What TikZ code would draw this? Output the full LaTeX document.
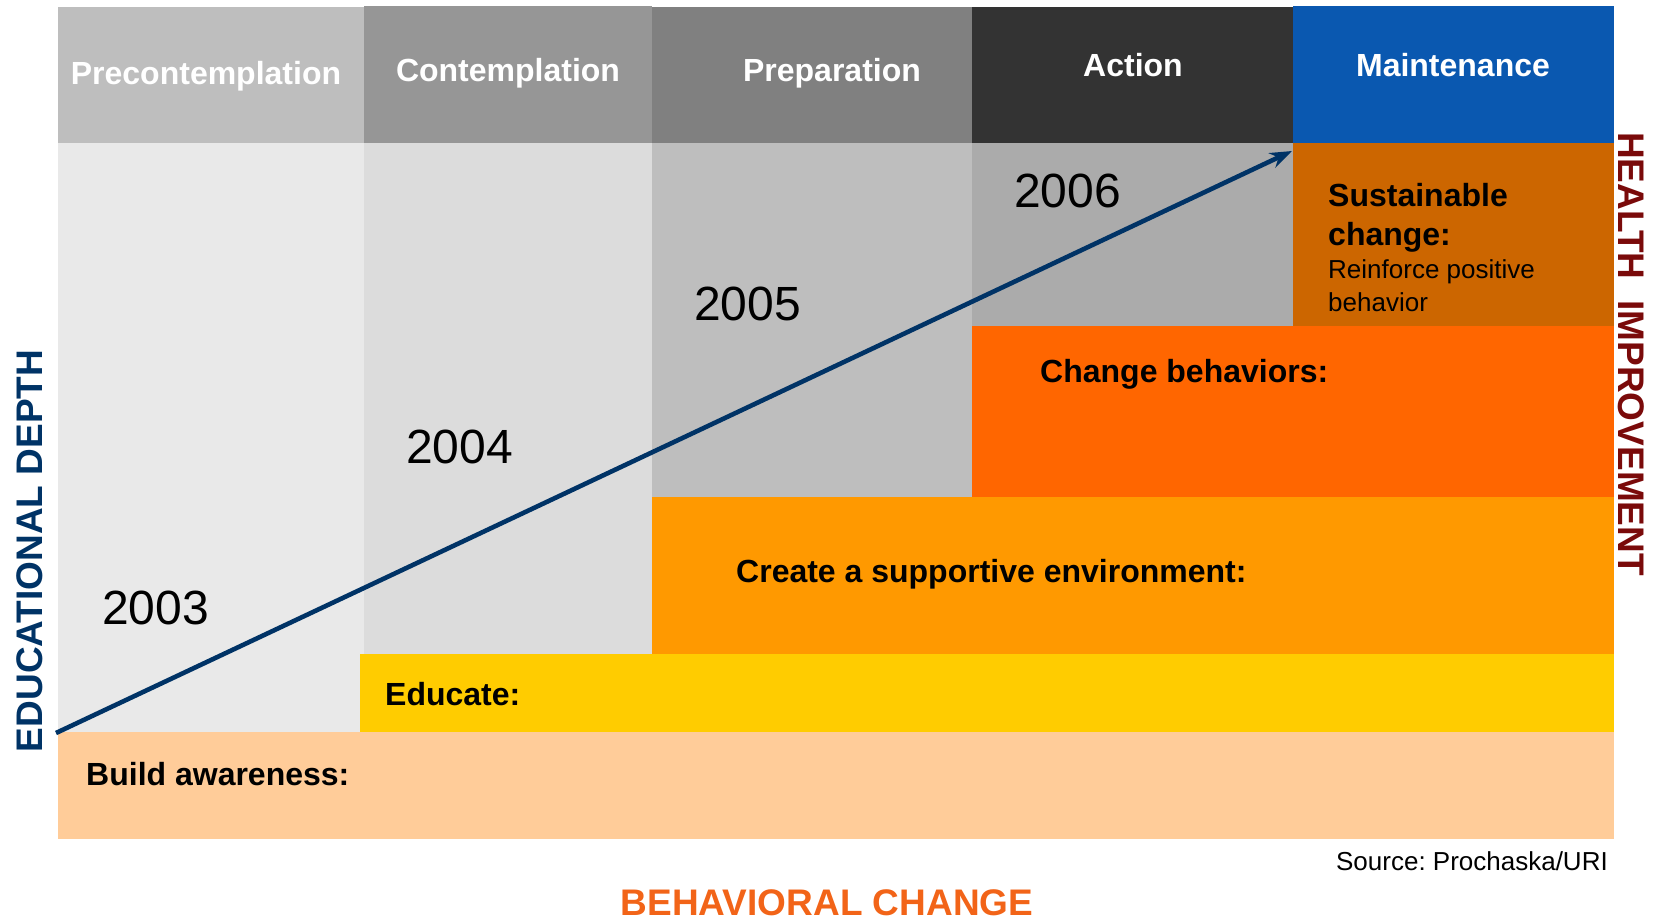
\documentclass[tikz,border=0pt]{standalone}
\usepackage{fontspec}
\setmainfont{Liberation Sans}
\usetikzlibrary{arrows.meta}
\frenchspacing
\definecolor{hpreC}{HTML}{BEBEBE}
\definecolor{hconC}{HTML}{969696}
\definecolor{hprepC}{HTML}{808080}
\definecolor{hactC}{HTML}{333333}
\definecolor{hmainC}{HTML}{0A58B0}
\definecolor{bpreC}{HTML}{E9E9E9}
\definecolor{bconC}{HTML}{DCDCDC}
\definecolor{bprepC}{HTML}{BEBEBE}
\definecolor{bactC}{HTML}{ABABAB}
\definecolor{bmainC}{HTML}{CC6600}
\definecolor{chgC}{HTML}{FF6600}
\definecolor{supC}{HTML}{FF9900}
\definecolor{eduC}{HTML}{FFCC00}
\definecolor{awaC}{HTML}{FFCC99}
\definecolor{navyC}{HTML}{003366}
\definecolor{bchC}{HTML}{F26418}
\definecolor{healthC}{HTML}{7A0A0A}
\tikzset{
  box/.style={draw=none, inner sep=0pt, outer sep=0pt, anchor=north west},
  head/.style={text=white, font=\fontsize{32}{38}\selectfont\bfseries, anchor=base, inner sep=0pt},
  yr/.style={font=\fontsize{48}{56}\selectfont, anchor=base west, inner sep=0pt},
  lbl/.style={font=\fontsize{32}{38}\selectfont\bfseries, anchor=base west, inner sep=0pt},
  sublbl/.style={font=\fontsize{26}{30}\selectfont, anchor=base west, inner sep=0pt},
  axis/.style={font=\fontsize{37}{44}\selectfont\bfseries, anchor=base, inner sep=0pt},
  arr/.style={draw=navyC, line width=4.6pt, -{Stealth[length=22pt,width=16pt]}},
}
\begin{document}
\begin{tikzpicture}[x=1pt,y=-1pt]
\useasboundingbox (0,0) rectangle (1658,920);
% headers
\node[box, fill=hpreC, minimum width=306pt, minimum height=136pt] (hpre) at (58,7) {};
\node[box, fill=hconC, minimum width=288pt, minimum height=137pt] (hcon) at (364,6) {};
\node[box, fill=hprepC, minimum width=320pt, minimum height=136pt] (hprep) at (652,7) {};
\node[box, fill=hactC, minimum width=321pt, minimum height=136pt] (hact) at (972,7) {};
\node[box, fill=hmainC, minimum width=321pt, minimum height=137pt] (hmain) at (1293,6) {};
% bodies
\node[box, fill=bpreC, minimum width=306pt, minimum height=589pt] (bpre) at (58,143) {};
\node[box, fill=bconC, minimum width=288pt, minimum height=511pt] (bcon) at (364,143) {};
\node[box, fill=bprepC, minimum width=320pt, minimum height=354pt] (bprep) at (652,143) {};
\node[box, fill=bactC, minimum width=321pt, minimum height=183pt] (bact) at (972,143) {};
\node[box, fill=bmainC, minimum width=321pt, minimum height=184pt] (bmain) at (1293,143) {};
\node[box, fill=chgC, minimum width=642pt, minimum height=171pt] (chg) at (972,326) {};
\node[box, fill=supC, minimum width=962pt, minimum height=157pt] (sup) at (652,497) {};
\node[box, fill=eduC, minimum width=1254pt, minimum height=78pt] (edu) at (360,654) {};
\node[box, fill=awaC, minimum width=1556pt, minimum height=107pt] (awa) at (58,732) {};
% header texts
\node[head] (tpre) at (206,85) {Precontemplation};
\node[head] (tcon) at (508,82) {Contemplation};
\node[head] (tprep) at (832,82) {Preparation};
\node[head] (tact) at (1133,77) {Action};
\node[head] (tmain) at (1453,77) {Maintenance};
% years
\node[yr] (y03) at (102,624) {2003};
\node[yr] (y04) at (406,463) {2004};
\node[yr] (y05) at (694,320) {2005};
\node[yr] (y06) at (1014,208) {2006};
% labels
\node[lbl] (sus1) at (1328,207) {Sustainable};
\node[lbl] (sus2) at (1328,246) {change:};
\node[sublbl] (sus3) at (1328,279) {Reinforce positive};
\node[sublbl] (sus4) at (1328,311) {behavior};
\node[lbl] (tchg) at (1040,382) {Change behaviors:};
\node[lbl] (tsup) at (736,582) {Create a supportive environment:};
\node[lbl] (tedu) at (385,705) {Educate:};
\node[lbl] (tawa) at (86,785) {Build awareness:};
\node[font=\fontsize{26}{30}\selectfont, anchor=base east, inner sep=0pt] (src) at (1608,870) {Source: Prochaska/URI};
% axes
\node[axis, text=bchC] (xaxis) at (827,915) {BEHAVIORAL CHANGE};
\node[axis, text=navyC, rotate=90] (yaxis) at (42,551) {EDUCATIONAL DEPTH};
\node[axis, text=healthC, rotate=-90] (raxis) at (1618,354) {HEALTH\hspace{21pt}IMPROVEMENT};
% arrow
\coordinate (arrS) at (56,733);
\coordinate (arrE) at (1292,151);
\draw[arr] (arrS) -- (arrE);
\end{tikzpicture}
\end{document}
